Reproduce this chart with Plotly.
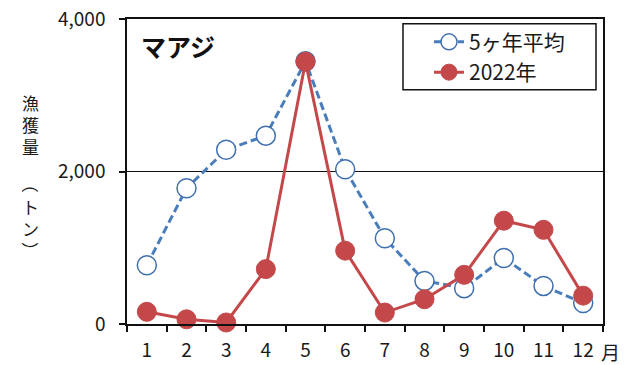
import plotly.graph_objects as go

months = ["1", "2", "3", "4", "5", "6", "7", "8", "9", "10", "11", "12"]
avg5 = [770, 1780, 2285, 2470, 3445, 2030, 1125, 565, 470, 865, 500, 275]
y2022 = [160, 62, 20, 720, 3440, 962, 150, 325, 645, 1355, 1235, 372]
name_avg = "5ヶ年平均"
name_2022 = "2022年"
yticks = [0, 2000, 4000]

FONT = "Noto Sans CJK JP"
BLUE = "#4A7EBB"
RED = "#C4484A"

# plot area in pixels
L, R, T, B = 127, 603, 19.3, 324
W, H = R - L, B - T


def px(x):
    return (x - L) / W


def py(y):
    return (B - y) / H


fig = go.Figure()
fig.add_trace(go.Scatter(
    x=months, y=avg5, name=name_avg, mode="lines+markers",
    line=dict(color=BLUE, width=3, dash="8px,4px"),
    marker=dict(size=19, color="white", line=dict(color="#3F6FAF", width=1.5)),
    cliponaxis=False,
))
fig.add_trace(go.Scatter(
    x=months, y=y2022, name=name_2022, mode="lines+markers",
    line=dict(color=RED, width=3),
    marker=dict(size=19, color=RED, line=dict(color=RED, width=1)),
    cliponaxis=False,
))

fig.update_layout(
    width=629, height=365,
    margin=dict(l=127, r=26, t=19, b=41, autoexpand=False),
    paper_bgcolor="white", plot_bgcolor="white",
    font=dict(family=FONT, size=19, color="#1a1a1a"),
    showlegend=True,
    legend=dict(
        x=px(429), y=py(22), xanchor="left", yanchor="top",
        borderwidth=0, bgcolor="rgba(0,0,0,0)",
        font=dict(family=FONT, size=21, color="#1a1a1a"),
    ),
    xaxis=dict(
        type="category", tickson="boundaries", range=[-0.5, 11.5],
        automargin=False,
        showline=True, linecolor="#111", linewidth=1.5, mirror=True,
        ticks="outside", ticklen=6, tickcolor="#111", tickwidth=1.5,
        showgrid=False, ticklabelstandoff=8,
        tickfont=dict(family=FONT, size=19),
    ),
    yaxis=dict(
        range=[0, 4000], tickvals=yticks, tickformat=",",
        automargin=False,
        showline=True, linecolor="#111", linewidth=1.5, mirror=True,
        ticks="outside", ticklen=6, tickcolor="#111", tickwidth=1.5,
        showgrid=True, gridcolor="#111", gridwidth=1, zeroline=False,
        ticklabelstandoff=10,
        tickfont=dict(family=FONT, size=19),
    ),
)

# legend frame
fig.add_shape(type="rect", xref="paper", yref="paper",
              x0=px(403), x1=px(596), y0=py(90), y1=py(24),
              line=dict(color="#111", width=1.5), fillcolor="white", layer="above")

# species title inside plot
fig.add_annotation(text="<b>マアジ</b>", xref="paper", yref="paper",
                   x=px(139), y=py(46),
                   xanchor="left", yanchor="middle", showarrow=False,
                   font=dict(family=FONT, size=25, color="#111"))

# month unit label
fig.add_annotation(text="月", xref="paper", yref="paper",
                   x=px(610), y=py(351),
                   xanchor="center", yanchor="middle", showarrow=False,
                   font=dict(family=FONT, size=19, color="#1a1a1a"))

# vertical y-axis title (stacked characters, parentheses rotated)
ytitle_parts = ["漁<br>獲<br>量", "（", "ト<br>ン", "）"]
ytitle_rot = [0, 90, 0, 90]
ytitle_px = [125, 184, 217.5, 250]
for txt, rot, yy in zip(ytitle_parts, ytitle_rot, ytitle_px):
    fig.add_annotation(text=txt, xref="paper", yref="paper",
                       x=px(30), y=py(yy), textangle=rot,
                       xanchor="center", yanchor="middle", showarrow=False,
                       font=dict(family=FONT, size=17, color="#1a1a1a"))

fig.write_html("out.html", config={"displayModeBar": False},
               post_script="document.body.style.margin='0';document.body.style.overflow='hidden';")
